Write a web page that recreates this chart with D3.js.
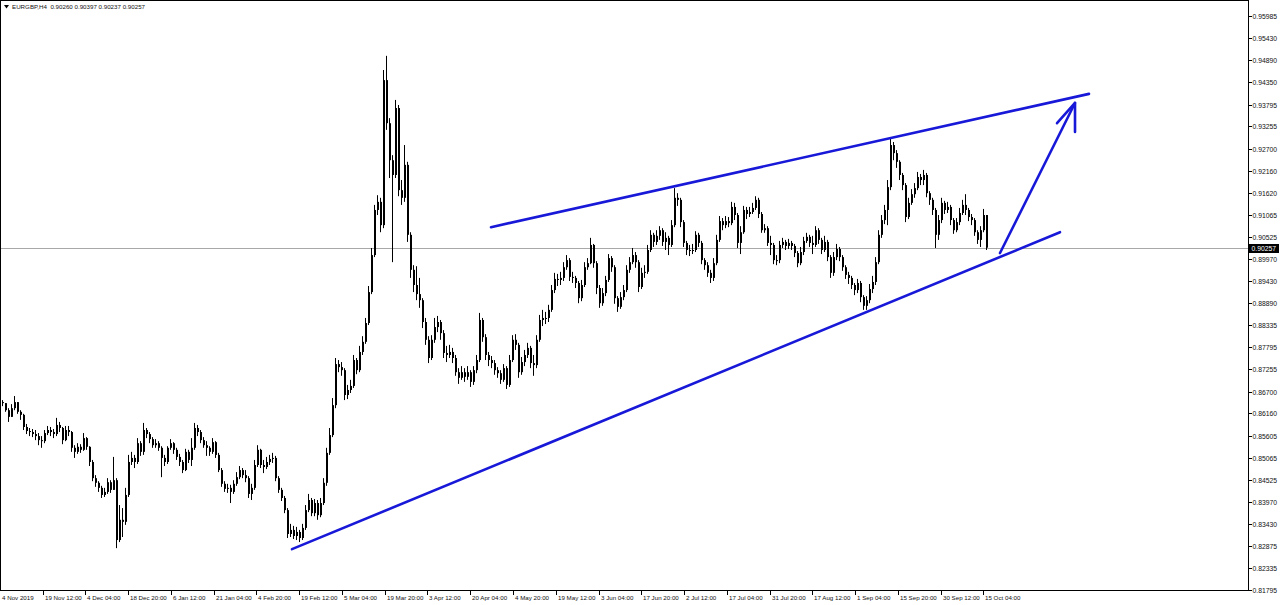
<!DOCTYPE html>
<html><head><meta charset="utf-8">
<script src="https://cdn.jsdelivr.net/npm/d3@7"></script>
<style>html,body{margin:0;padding:0;background:#fff;}svg{display:block;}</style>
</head><body><svg id="c" width="1280" height="605"></svg>
<script>
// ---------- data ----------
const symbol = "EURGBP,H4";
const lastBarOHLC = ["0.90260", "0.90397", "0.90237", "0.90257"];
const lastPrice = 0.90257;
const firstOpen = 0.8644;
const closes = [
.86415,.8624,.86075,.8629,.8644,.8620,.86125,.85825,.85725,.8570,
.8565,.8560,.8550,.85475,.85675,.8575,.8570,.8565,.85875,.8580,
.8550,.8575,.8570,.8531,.8521,.85335,.8526,.8555,.85335,.8496,
.8456,.84445,.8432,.84145,.8422,.8446,.8427,.8451,.8303,.8353,
.8348,.84145,.8496,.8506,.8496,.85425,.8521,.8575,.8565,.85525,
.85375,.85425,.8531,.8506,.8496,.8531,.85425,.8526,.85085,.8496,
.8476,.8521,.8501,.8531,.8580,.8570,.8550,.85375,.8531,.8521,
.8545,.85135,.8476,.8442,.84295,.8432,.8422,.8442,.84585,.8476,
.84635,.8456,.8417,.8432,.84885,.8526,.84885,.84835,.8496,.85035,
.8506,.8456,.8427,.8407,.8377,.8318,.8328,.8313,.8323,.8308,
.8333,.8377,.8402,.83695,.83945,.83645,.83945,.84445,.85185,.85625,
.86365,.8738,.87305,.8723,.86615,.8674,.8684,.8748,.8723,.8768,
.8793,.88395,.8916,.90075,.9119,.9139,.90815,.9440,.93335,.9242,
.92055,.9371,.9168,.9149,.92305,.90575,.8971,.89335,.8911,.8896,
.8842,.8798,.8753,.8798,.88295,.8842,.88145,.87655,.87605,.8768,
.8753,.8718,.8704,.8718,.87065,.8718,.8694,.8723,.8748,.8847,
.88045,.87605,.8748,.87405,.8723,.87155,.8699,.8728,.86865,.8748,
.8798,.87855,.8718,.8743,.87605,.8778,.87405,.87355,.8798,.8847,
.8852,.8852,.8872,.8921,.89485,.8946,.8951,.89775,.8995,.89535,
.8951,.89385,.8901,.89335,.89775,.89875,.90325,.89875,.8926,.88885,
.89135,.8946,.9000,.89775,.8901,.88795,.89035,.8921,.8971,.8990,
.90075,.8990,.89285,.89635,.8966,.9020,.90575,.9040,.9055,.9069,
.9040,.9050,.90325,.90815,.9149,.9144,.9089,.90375,.9020,.9020,
.9020,.90575,.90375,.8995,.89825,.89635,.8951,.89875,.9045,.90915,
.90815,.90915,.90865,.91265,.91065,.90375,.9064,.9119,.9109,.9114,
.9124,.9144,.9109,.9069,.9074,.90375,.90325,.8995,.8995,.90325,
.9040,.9030,.90375,.9030,.90125,.89875,.9015,.90425,.90525,.90375,
.90325,.9069,.9045,.9020,.9040,.90025,.89635,.90025,.90225,.90025,
.89775,.89585,.8951,.89335,.8921,.89385,.89035,.8882,.8896,.89235,
.8941,.8990,.90575,.9094,.9119,.91755,.92795,.92595,.9238,.92055,
.91805,.91015,.91365,.9158,.9173,.92005,.9193,.92055,.91605,.9144,
.9119,.90575,.9094,.91365,.9119,.91265,.9094,.9069,.9089,.91115,
.91315,.9119,.91015,.9094,.9064,.9045,.9069,.91065,.90257];
const highs = [
.8649,.86415,.8629,.8639,.8659,.8644,.8624,.8615,.8590,.8580,
.85775,.8575,.85675,.8560,.8575,.8585,.85825,.85775,.8605,.8595,
.85825,.8585,.8585,.85725,.85375,.85425,.8540,.85675,.85575,.8535,
.8501,.84635,.84485,.8437,.8432,.8456,.8451,.85085,.8456,.83895,
.8382,.8432,.85135,.8521,.85135,.8555,.85475,.85925,.8580,.8570,
.85575,.85525,.85475,.8535,.85135,.8535,.85525,.8545,.8531,.8516,
.8501,.85285,.8526,.8555,.85925,.85875,.8575,.85575,.85475,.8535,
.8555,.85475,.85185,.8481,.84485,.8442,.84395,.8451,.8471,.8486,
.8481,.8476,.8461,.8442,.8501,.85375,.85285,.8501,.85085,.85135,
.85185,.8511,.8461,.8432,.8412,.8382,.8343,.8338,.83355,.8328,
.8343,.83895,.8417,.8407,.84045,.8402,.8407,.8456,.8531,.8580,
.8654,.8753,.8748,.8743,.8728,.86865,.8699,.87605,.8753,.8783,
.8807,.8852,.8931,.9025,.91315,.91555,.9149,.9465,.9500,.9346,
.92545,.9391,.93785,.9193,.92795,.9238,.9064,.89825,.8980,.8951,
.8901,.8852,.8807,.88095,.8852,.8857,.8847,.8822,.8783,.87855,
.8778,.87605,.8728,.8733,.8728,.8733,.8723,.8733,.87605,.88645,
.8852,.8812,.8768,.8758,.8748,.87305,.8723,.8738,.8733,.87605,
.88095,.8812,.87905,.87555,.8773,.87905,.8783,.87605,.88095,.88595,
.8872,.8867,.88845,.89335,.89635,.8961,.8966,.8990,.90075,.9000,
.8966,.8956,.89435,.8946,.8990,.9000,.9050,.9035,.89925,.89335,
.8926,.8956,.9010,.9005,.89825,.8906,.8916,.89335,.89825,.90025,
.9025,.9015,.8995,.8976,.89825,.90325,.9069,.90625,.9069,.9079,
.9074,.9064,.9055,.9094,.9173,.91605,.9149,.9094,.90425,.90325,
.9035,.90665,.90625,.90425,.9000,.8990,.8971,.9000,.90575,.9104,
.9099,.9104,.91015,.9139,.91365,.91115,.9079,.9129,.91265,.91265,
.91365,.9153,.9149,.9114,.9084,.9079,.9055,.90375,.90075,.90425,
.9050,.9045,.90475,.90425,.9035,.90175,.90275,.90525,.90625,.90575,
.9055,.9079,.9074,.9050,.9055,.9045,.90075,.9015,.9035,.90275,
.90075,.89825,.8966,.8956,.89385,.89485,.89435,.89085,.8906,.8936,
.8956,.90025,.9069,.91065,.91315,.9193,.9297,.9287,.9267,.9242,
.92105,.91855,.9149,.91705,.91855,.9213,.9208,.9218,.92105,.91655,
.9149,.9124,.91065,.9149,.91415,.9139,.91315,.9099,.9099,.9124,
.9144,.9158,.9124,.9109,.9099,.9069,.9079,.91215,.91065];
const lows = [
.8634,.8620,.8595,.8610,.8624,.8615,.8600,.8575,.8565,.8560,
.85575,.8550,.85375,.8531,.85425,.85625,.8560,.8555,.8560,.8570,
.8540,.85475,.8560,.8521,.8506,.8516,.85185,.85235,.8526,.8486,
.84485,.84345,.8422,.8407,.84095,.8417,.84195,.8427,.8283,.8298,
.83105,.83405,.84095,.84885,.8481,.8491,.8511,.85135,.8555,.85425,
.8531,.8531,.85235,.84585,.8486,.8491,.8526,.8516,.8501,.8486,
.84685,.84735,.84935,.8486,.8526,.8560,.85425,.8531,.8511,.8511,
.8516,.8506,.8471,.84345,.8422,.84195,.83945,.8417,.8437,.84535,
.8456,.8446,.8407,.8402,.8427,.84835,.8481,.84685,.84785,.84885,
.84935,.84485,.84195,.83995,.83695,.8308,.83105,.83055,.8303,.8298,
.8303,.8328,.8372,.8362,.8362,.8353,.83595,.83895,.8437,.85135,
.85575,.8629,.8718,.8709,.8649,.86515,.86665,.8679,.8713,.8718,
.87605,.8788,.88345,.8911,.90025,.91065,.9064,.9074,.9317,.9198,
.8990,.9198,.9153,.91315,.9139,.9040,.8951,.8916,.8896,.8877,
.8827,.87855,.87405,.8748,.87905,.8817,.8798,.8753,.8743,.8753,
.87405,.8709,.8689,.8699,.8694,.8699,.86815,.86865,.87155,.8743,
.8793,.8748,.8733,.8728,.87115,.8704,.8689,.8694,.86765,.86815,
.8743,.8773,.8704,.87115,.8733,.8753,.8728,.8709,.8728,.8793,
.8832,.8837,.8842,.8867,.89135,.8931,.89335,.89435,.8971,.89435,
.89385,.8926,.88885,.88935,.89285,.8971,.8985,.8976,.8911,.8877,
.8882,.8906,.8941,.8966,.8887,.8867,.88745,.8896,.8916,.89635,
.8985,.8976,.8916,.89235,.8951,.8961,.9015,.90275,.90325,.9045,
.9030,.9020,.90075,.90275,.90765,.9129,.90765,.90275,.90075,.9005,
.9010,.9015,.90275,.8985,.8971,.89535,.89385,.89435,.89825,.9040,
.9069,.9074,.90765,.90815,.9094,.9025,.9010,.9060,.90965,.91015,
.9109,.9119,.9099,.90625,.90625,.9030,.90075,.8985,.89825,.89875,
.9025,.9020,.90225,.9020,.90025,.89775,.89825,.90075,.90375,.90275,
.9010,.90275,.9035,.9010,.9015,.89925,.8951,.8956,.8995,.89925,
.89685,.89485,.8936,.89235,.89085,.89135,.8891,.8872,.8872,.88885,
.89135,.89335,.8985,.9050,.9084,.90815,.9168,.9242,.9223,.9193,
.9168,.9089,.90965,.91315,.9149,.9168,.91805,.91805,.91505,.91315,
.91065,.9025,.9045,.90865,.9109,.91115,.90815,.9060,.9064,.90815,
.91065,.91065,.90915,.90815,.9055,.9035,.90275,.9064,.9020];

const priceTicks = [0.95985,0.95430,0.94890,0.94350,0.93795,0.93255,0.92700,0.92160,0.91620,
  0.91065,0.90525,0.89970,0.89430,0.88890,0.88335,0.87795,0.87255,0.86700,0.86160,0.85605,
  0.85065,0.84525,0.83970,0.83430,0.82875,0.82335,0.81795];
const timeLabels = ["4 Nov 2019","19 Nov 12:00","4 Dec 04:00","18 Dec 20:00","6 Jan 12:00",
  "21 Jan 04:00","4 Feb 20:00","19 Feb 12:00","5 Mar 04:00","19 Mar 20:00","3 Apr 12:00",
  "20 Apr 04:00","4 May 20:00","19 May 12:00","3 Jun 04:00","17 Jun 20:00","2 Jul 12:00",
  "17 Jul 04:00","31 Jul 20:00","17 Aug 12:00","1 Sep 04:00","15 Sep 20:00","30 Sep 12:00",
  "15 Oct 04:00"];
const candlesPerLabel = 14.257;   // time-axis label spacing, in candles
const labelPhase = -0.757;

// drawn trend lines: [candle index, price]
const lowerTrend = [[96.67, 0.82805], [352.67, 0.9064]];
const upperTrend = [[163.0, 0.90765], [362.33, 0.9406]];
const arrowShaft = [[332.67, 0.90125], [357.67, 0.93835]];
const arrowHead = [[351.67, 0.93335], [357.67, 0.93835], [357.67, 0.9312]];

// ---------- layout ----------
const svg = d3.select("#c");
const plot = {left: 1, top: 1, right: 1249, bottom: 591};
const N = closes.length;
const x = d3.scaleLinear().domain([0, N - 1]).range([2, 986]);
const y = d3.scaleLinear().domain([0.81795, 0.95985]).range([590, 16]);
const FONT = "'Liberation Sans', Arial, sans-serif";

svg.append("rect").attr("width", 1280).attr("height", 605).attr("fill", "#fff");

svg.append("defs").append("clipPath").attr("id", "pc")
  .append("rect").attr("x", plot.left).attr("y", plot.top)
  .attr("width", plot.right - plot.left).attr("height", plot.bottom - plot.top);

const g = svg.append("g").attr("clip-path", "url(#pc)");

// current price line
g.append("line")
  .attr("x1", plot.left).attr("x2", plot.right)
  .attr("y1", Math.round(y(lastPrice)) + 0.5).attr("y2", Math.round(y(lastPrice)) + 0.5)
  .attr("stroke", "#a8a8a8").attr("stroke-width", 1);

// candles
const candles = closes.map((c, i) => {
  const o = i ? closes[i - 1] : firstOpen;
  return {i, o, c, h: Math.max(highs[i], o, c), l: Math.min(lows[i], o, c)};
});
const cg = g.append("g");
cg.selectAll("line.w").data(candles).join("line")
  .attr("class", "w")
  .attr("x1", d => Math.round(x(d.i)) + 0.5).attr("x2", d => Math.round(x(d.i)) + 0.5)
  .attr("y1", d => y(d.h)).attr("y2", d => y(d.l))
  .attr("stroke", "#000").attr("stroke-width", 1);
cg.selectAll("rect.b").data(candles).join("rect")
  .attr("class", "b")
  .attr("x", d => Math.round(x(d.i)))
  .attr("width", 2)
  .attr("y", d => y(Math.max(d.o, d.c)))
  .attr("height", d => Math.max(1, Math.abs(y(d.o) - y(d.c))))
  .attr("fill", "#000");

// trend lines & arrow
const line = d3.line().x(d => x(d[0])).y(d => y(d[1]));
const blue = "#1818d8";
[lowerTrend, upperTrend, arrowShaft, arrowHead].forEach(pts => {
  g.append("path").attr("d", line(pts)).attr("fill", "none")
    .attr("stroke", blue).attr("stroke-width", 2.6)
    .attr("stroke-linecap", "round").attr("stroke-linejoin", "round");
});

// frame
svg.append("rect")
  .attr("x", plot.left - 0.5).attr("y", plot.top - 0.5)
  .attr("width", plot.right - plot.left).attr("height", plot.bottom - plot.top)
  .attr("fill", "none").attr("stroke", "#000").attr("stroke-width", 1);

// right price axis
const ya = svg.append("g");
priceTicks.forEach(v => {
  const yy = Math.round(y(v)) + 0.5;
  ya.append("line").attr("x1", plot.right - 0.5).attr("x2", plot.right + 3)
    .attr("y1", yy).attr("y2", yy).attr("stroke", "#000");
  ya.append("text").attr("x", plot.right + 3.5).attr("y", yy + 2.4)
    .attr("font-family", FONT).attr("font-size", 6.8).attr("fill", "#111")
    .text(v.toFixed(5));
});
// last price box
const ly = Math.round(y(lastPrice)) + 0.5;
ya.append("rect").attr("x", plot.right).attr("y", ly - 4.5).attr("width", 30).attr("height", 9)
  .attr("fill", "#000");
ya.append("text").attr("x", plot.right + 2.5).attr("y", ly + 2.4)
  .attr("font-family", FONT).attr("font-size", 6.8).attr("fill", "#fff")
  .text(lastPrice.toFixed(5));

// bottom time axis
const xa = svg.append("g");
timeLabels.forEach((t, k) => {
  if (k === 0) {
    xa.append("text").attr("x", plot.left + 1).attr("y", 600)
      .attr("font-family", FONT).attr("font-size", 6.2).attr("fill", "#111").text(t);
    return;
  }
  const xx = Math.round(x(k * candlesPerLabel + labelPhase)) + 0.5;
  xa.append("line").attr("x1", xx).attr("x2", xx).attr("y1", plot.bottom - 0.5).attr("y2", plot.bottom + 4)
    .attr("stroke", "#000");
  xa.append("text").attr("x", xx + 1.5).attr("y", 600)
    .attr("font-family", FONT).attr("font-size", 6.2).attr("fill", "#111").text(t);
});

// header
svg.append("path").attr("d", "M4,5 L9,5 L6.5,8.5 Z").attr("fill", "#000");
svg.append("text").attr("x", 12).attr("y", 9)
  .attr("font-family", FONT).attr("font-size", 6.2).attr("fill", "#111")
  .attr("xml:space", "preserve")
  .text(symbol + "  " + lastBarOHLC.join(" "));
</script>
</body></html>
